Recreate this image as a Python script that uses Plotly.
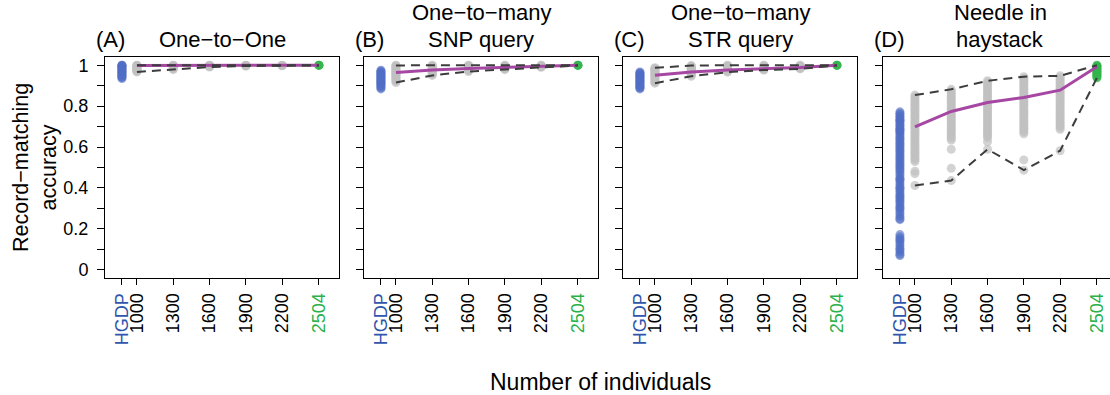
import plotly.graph_objects as go

# ---------------- data ----------------
SIZES = [1000, 1300, 1600, 1900, 2200, 2504]
TICK_LABELS = ["HGDP", "1000", "1300", "1600", "1900", "2200", "2504"]
HGDP_POS = 876
LETTERS = ["(A)", "(B)", "(C)", "(D)"]
TITLE_LINE1 = ["", "One−to−many", "One−to−many", "Needle in"]
TITLE_LINE2 = ["One−to−One", "SNP query", "STR query", "haystack"]

A_HGDP = [1.0, 1.0, 0.998, 0.995, 0.992, 0.988, 0.985, 0.981, 0.977, 0.974, 0.97, 0.966, 0.962, 0.958, 0.955, 0.951, 0.947, 0.943, 0.939, 0.935]
A_GREY = [
    [1.0, 0.999, 0.997, 0.994, 0.991, 0.988, 0.985, 0.982, 0.979, 0.976, 0.973, 0.970, 0.967],
    [1.0, 0.999, 0.997, 0.995, 0.992, 0.989, 0.986, 0.982, 0.979],
    [1.0, 0.999, 0.998, 0.996, 0.994, 0.991],
    [1.0, 0.999, 0.998, 0.997, 0.996],
    [1.0, 0.999, 0.998, 0.997],
]
A_GREEN = [1.0, 1.0, 0.999]
A_MEAN = [0.999, 0.999, 1.0, 1.0, 1.0, 1.0]
A_MAX = [1.0, 1.0, 1.0, 1.0, 1.0, 1.0]
A_MIN = [0.967, 0.979, 0.991, 0.996, 0.997, 0.999]

B_HGDP = [0.975, 0.971, 0.967, 0.963, 0.958, 0.954, 0.95, 0.946, 0.942, 0.938, 0.933, 0.929, 0.925, 0.921, 0.916, 0.912, 0.908, 0.903, 0.899, 0.894, 0.889, 0.884]
B_GREY = [
    [1.0, 0.997, 0.993, 0.989, 0.984, 0.979, 0.975, 0.97, 0.966, 0.961, 0.957, 0.952, 0.947, 0.942, 0.937, 0.932, 0.927, 0.922, 0.915],
    [1.0, 0.997, 0.993, 0.989, 0.985, 0.981, 0.977, 0.973, 0.969, 0.964, 0.96, 0.955, 0.95],
    [1.0, 0.997, 0.994, 0.99, 0.986, 0.982, 0.978, 0.974, 0.969],
    [1.0, 0.997, 0.994, 0.991, 0.988, 0.985, 0.982, 0.978],
    [1.0, 0.998, 0.996, 0.994, 0.992, 0.99],
]
B_GREEN = [1.0, 1.0, 0.999]
B_MEAN = [0.964, 0.976, 0.984, 0.989, 0.993, 1.0]
B_MAX = [0.999, 1.0, 1.0, 1.0, 1.0, 1.0]
B_MIN = [0.915, 0.95, 0.969, 0.978, 0.99, 0.999]

C_HGDP = [0.967, 0.963, 0.959, 0.955, 0.951, 0.947, 0.943, 0.939, 0.934, 0.93, 0.926, 0.922, 0.918, 0.913, 0.909, 0.905, 0.9, 0.896, 0.892, 0.888, 0.884]
C_GREY = [
    [0.988, 0.984, 0.98, 0.975, 0.971, 0.966, 0.962, 0.957, 0.952, 0.947, 0.942, 0.937, 0.932, 0.927, 0.922, 0.917, 0.912],
    [0.998, 0.995, 0.991, 0.987, 0.983, 0.979, 0.974, 0.97, 0.965, 0.961, 0.956, 0.951, 0.946],
    [1.0, 0.997, 0.994, 0.99, 0.986, 0.982, 0.978, 0.974, 0.97, 0.966],
    [1.0, 0.997, 0.994, 0.991, 0.988, 0.985, 0.982, 0.979, 0.976],
    [1.0, 0.997, 0.994, 0.991, 0.988, 0.985, 0.982],
]
C_GREEN = [1.0, 1.0, 0.999]
C_MEAN = [0.951, 0.967, 0.976, 0.982, 0.989, 1.0]
C_MAX = [0.987, 0.998, 1.0, 1.0, 1.0, 1.0]
C_MIN = [0.912, 0.946, 0.966, 0.976, 0.982, 0.999]

D_HGDP = [0.772, 0.765, 0.758, 0.751, 0.743, 0.736, 0.731, 0.728, 0.721, 0.713, 0.706, 0.698, 0.691, 0.685, 0.681, 0.676, 0.668, 0.66, 0.652, 0.643, 0.636, 0.627, 0.619, 0.611, 0.604, 0.595, 0.588, 0.579, 0.571, 0.562, 0.555, 0.546, 0.538, 0.531, 0.521, 0.513, 0.506, 0.497, 0.489, 0.481, 0.47, 0.459, 0.447, 0.442, 0.436, 0.425, 0.414, 0.404, 0.398, 0.39, 0.381, 0.371, 0.362, 0.356, 0.348, 0.34, 0.331, 0.322, 0.311, 0.302, 0.297, 0.285, 0.274, 0.262, 0.251, 0.245, 0.172, 0.161, 0.152, 0.146, 0.138, 0.127, 0.116, 0.104, 0.098, 0.087, 0.076, 0.07]
D_GREY = [
    [0.854, 0.846, 0.836, 0.827, 0.817, 0.808, 0.799, 0.789, 0.78, 0.771, 0.761, 0.752, 0.743, 0.733, 0.724, 0.715, 0.705, 0.696, 0.687, 0.677, 0.668, 0.659, 0.649, 0.64, 0.631, 0.621, 0.612, 0.603, 0.594, 0.584, 0.575, 0.566, 0.556, 0.547, 0.538, 0.529, 0.482, 0.47, 0.412],
    [0.882, 0.873, 0.864, 0.855, 0.846, 0.838, 0.829, 0.82, 0.811, 0.802, 0.793, 0.785, 0.776, 0.767, 0.758, 0.749, 0.74, 0.732, 0.723, 0.714, 0.705, 0.696, 0.687, 0.679, 0.67, 0.661, 0.652, 0.643, 0.634, 0.589, 0.496, 0.436],
    [0.924, 0.915, 0.906, 0.897, 0.888, 0.879, 0.87, 0.861, 0.852, 0.843, 0.834, 0.825, 0.816, 0.807, 0.798, 0.789, 0.78, 0.771, 0.762, 0.753, 0.744, 0.735, 0.726, 0.717, 0.708, 0.699, 0.69, 0.681, 0.672, 0.663, 0.654, 0.645, 0.626, 0.589],
    [0.944, 0.935, 0.926, 0.917, 0.908, 0.899, 0.89, 0.881, 0.872, 0.863, 0.854, 0.845, 0.836, 0.827, 0.818, 0.809, 0.8, 0.791, 0.782, 0.773, 0.764, 0.755, 0.746, 0.737, 0.728, 0.719, 0.71, 0.701, 0.692, 0.683, 0.674, 0.665, 0.537, 0.487],
    [0.948, 0.939, 0.93, 0.921, 0.912, 0.903, 0.894, 0.885, 0.876, 0.867, 0.858, 0.849, 0.84, 0.831, 0.822, 0.813, 0.804, 0.795, 0.786, 0.777, 0.768, 0.759, 0.75, 0.741, 0.732, 0.723, 0.714, 0.705, 0.696, 0.687, 0.582],
]
D_GREEN = [1.0, 0.996, 0.991, 0.987, 0.982, 0.977, 0.972, 0.967, 0.962, 0.956, 0.95, 0.944, 0.938]
D_MEAN = [0.698, 0.774, 0.818, 0.842, 0.878, 0.992]
D_MAX = [0.854, 0.882, 0.924, 0.944, 0.948, 1.0]
D_MIN = [0.412, 0.436, 0.589, 0.487, 0.582, 0.938]

PANELS = [
    (A_HGDP, A_GREY, A_GREEN, A_MEAN, A_MAX, A_MIN),
    (B_HGDP, B_GREY, B_GREEN, B_MEAN, B_MAX, B_MIN),
    (C_HGDP, C_GREY, C_GREEN, C_MEAN, C_MAX, C_MIN),
    (D_HGDP, D_GREY, D_GREEN, D_MEAN, D_MAX, D_MIN),
]

# ---------------- style ----------------
W, H = 1110, 395
FONT = "Liberation Sans, Arial, Helvetica, sans-serif"
BLUE_TXT = "#2f55ad"
GREEN_TXT = "#2bb14a"
GREY_PT = "rgba(192,192,192,0.7)"
BLUE_PT = "rgba(80,110,196,0.6)"
GREEN_PT = "rgba(50,180,75,0.75)"
MAGENTA = "#a647a4"
DASH = "#3d3d3d"

PANEL_LEFT = [105, 364, 623, 883]
PANEL_W = 234
UNITS_PER_PX = 1934 / 234.0
X0 = 736
Y_TOP, Y_BOT = 57, 278
LINE_GAP = 27

fig = go.Figure()

for i, (hg, grey, green, mean, mx, mn) in enumerate(PANELS):
    sfx = "" if i == 0 else str(i + 1)
    xa, ya = "x" + sfx, "y" + sfx
    gx, gy = [], []
    for s, vals in zip(SIZES[:-1], grey):
        gx += [s] * len(vals)
        gy += vals
    mk = dict(size=9, line=dict(width=0))
    fig.add_trace(go.Scatter(x=gx, y=gy, mode="markers", xaxis=xa, yaxis=ya,
                             marker=dict(color=GREY_PT, **mk), showlegend=False))
    fig.add_trace(go.Scatter(x=[HGDP_POS] * len(hg), y=hg, mode="markers", xaxis=xa, yaxis=ya,
                             marker=dict(color=BLUE_PT, **mk), showlegend=False))
    fig.add_trace(go.Scatter(x=[SIZES[-1]] * len(green), y=green, mode="markers", xaxis=xa, yaxis=ya,
                             marker=dict(color=GREEN_PT, **mk), showlegend=False))
    fig.add_trace(go.Scatter(x=SIZES, y=mean, mode="lines", xaxis=xa, yaxis=ya,
                             line=dict(color=MAGENTA, width=3), showlegend=False))
    for line_vals in (mx, mn):
        fig.add_trace(go.Scatter(x=SIZES, y=line_vals, mode="lines", xaxis=xa, yaxis=ya,
                                 line=dict(color=DASH, width=2, dash="9px,6px"), showlegend=False))

    left = PANEL_LEFT[i]
    right = min(left + PANEL_W, W)
    x1 = X0 + (right - left) * UNITS_PER_PX
    ticktext = []
    for t in TICK_LABELS:
        if t == "HGDP":
            ticktext.append(f'<span style="color:{BLUE_TXT}">{t}</span>')
        elif t == "2504":
            ticktext.append(f'<span style="color:{GREEN_TXT}">{t}</span>')
        else:
            ticktext.append(t)
    fig.layout["xaxis" + sfx] = dict(
        domain=[left / W, right / W], range=[X0, x1], anchor=ya,
        tickvals=[HGDP_POS] + SIZES, ticktext=ticktext, tickangle=-90,
        ticks="outside", ticklen=6, tickwidth=1, tickcolor="black",
        showline=True, linecolor="black", linewidth=1, mirror=True,
        showgrid=False, zeroline=False, ticklabelstandoff=1,
        tickfont=dict(family=FONT, size=18, color="black"), fixedrange=True,
    )
    fig.layout["yaxis" + sfx] = dict(
        domain=[(H - Y_BOT) / H, (H - Y_TOP) / H], range=[-0.04, 1.04], anchor=xa,
        tickvals=[0, 0.2, 0.4, 0.6, 0.8, 1.0], ticktext=["0", "0.2", "0.4", "0.6", "0.8", "1"],
        showticklabels=(i == 0),
        ticks="outside", ticklen=7, tickwidth=1, tickcolor="black",
        minor=dict(tickvals=[0.1, 0.3, 0.5, 0.7, 0.9], ticks="outside", ticklen=7,
                   tickwidth=1, tickcolor="black", showgrid=False),
        showline=True, linecolor="black", linewidth=1, mirror=(i < 3),
        showgrid=False, zeroline=False, ticklabelstandoff=5,
        tickfont=dict(family=FONT, size=18, color="black"), fixedrange=True,
    )
    center = (left + left + PANEL_W) / 2
    tfont = dict(family=FONT, size=22, color="black")
    fig.add_annotation(x=center / W, y=(H - 53) / H, xref="paper", yref="paper",
                       text=TITLE_LINE2[i], showarrow=False, xanchor="center", yanchor="bottom",
                       font=tfont, borderpad=0)
    if TITLE_LINE1[i]:
        fig.add_annotation(x=center / W, y=(H - 53 + LINE_GAP) / H, xref="paper", yref="paper",
                           text=TITLE_LINE1[i], showarrow=False, xanchor="center", yanchor="bottom",
                           font=tfont, borderpad=0)
    fig.add_annotation(x=(left - 10) / W, y=(H - 53) / H, xref="paper", yref="paper",
                       text=LETTERS[i], showarrow=False, xanchor="left", yanchor="bottom",
                       font=tfont, borderpad=0)

fig.add_annotation(x=600 / W, y=(H - 382) / H, xref="paper", yref="paper",
                   text="Number of individuals", showarrow=False, xanchor="center", yanchor="middle",
                   font=dict(family=FONT, size=23, color="black"))
fig.add_annotation(x=35 / W, y=(H - 168) / H, xref="paper", yref="paper",
                   text="Record−matching<br>accuracy", showarrow=False, textangle=-90,
                   xanchor="center", yanchor="middle",
                   font=dict(family=FONT, size=21.5, color="black"))

fig.update_layout(width=W, height=H, autosize=False, template="none",
                  margin=dict(l=0, r=0, t=0, b=0),
                  plot_bgcolor="white", paper_bgcolor="white", showlegend=False)

fig.write_html("out.html", config={"displayModeBar": False, "staticPlot": True},
               post_script="document.body.style.margin='0';document.body.style.overflow='hidden';")
